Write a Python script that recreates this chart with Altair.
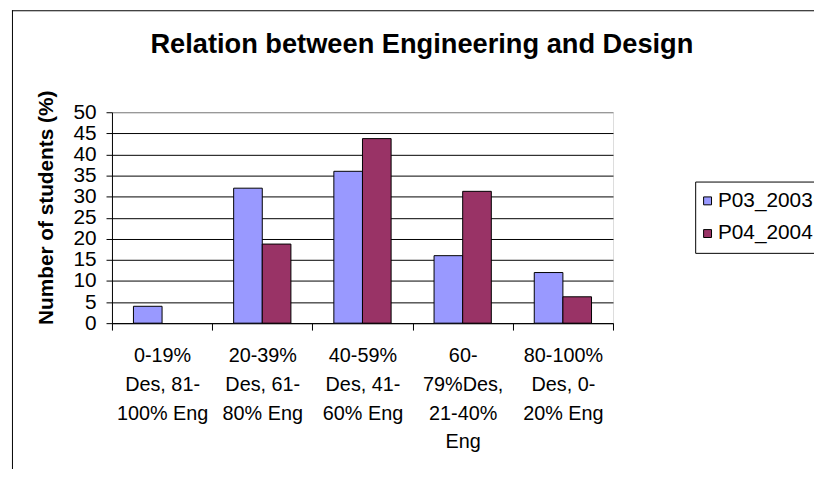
import altair as alt
import pandas as pd

categories = [
    "0-19%\nDes, 81-\n100% Eng",
    "20-39%\nDes, 61-\n80% Eng",
    "40-59%\nDes, 41-\n60% Eng",
    "60-\n79%Des,\n21-40%\nEng",
    "80-100%\nDes, 0-\n20% Eng",
]
series = ["P03_2003", "P04_2004"]
p03 = [4, 32, 36, 16, 12]
p04 = [None, 18.75, 43.75, 31.25, 6.25]
y_ticks = [0, 5, 10, 15, 20, 25, 30, 35, 40, 45, 50]
colors = ["#9999FF", "#993366"]

rows = []
for c, a, b in zip(categories, p03, p04):
    if a is not None:
        rows.append({"cat": c, "series": series[0], "value": a})
    if b is not None:
        rows.append({"cat": c, "series": series[1], "value": b})
df = pd.DataFrame(rows)

FONT = "Liberation Sans"

bars = alt.Chart(df).mark_bar(stroke="black", strokeWidth=1).encode(
    x=alt.X(
        "cat:N",
        sort=categories,
        scale=alt.Scale(paddingInner=0, paddingOuter=0),
        axis=alt.Axis(
            title=None,
            labelAngle=0,
            labelExpr="split(datum.label, '\\n')",
            tickBand="extent",
            tickSize=7,
            tickColor="black",
            domainColor="black",
            labelFont=FONT,
            labelFontSize=20,
            labelColor="black",
            labelLineHeight=29,
            labelPadding=16,
            labelBaseline="top",
        ),
    ),
    xOffset=alt.XOffset(
        "series:N",
        scale=alt.Scale(domain=series, paddingOuter=0.75, paddingInner=0),
    ),
    y=alt.Y(
        "value:Q",
        scale=alt.Scale(domain=[0, 50], nice=False),
        axis=alt.Axis(
            values=y_ticks,
            title="Number of students (%)",
            titleFont=FONT,
            titleFontSize=21,
            titleFontWeight="bold",
            titleColor="black",
            titleAngle=270,
            titleX=-66,
            titleY=96,
            titleAlign="center",
            titleBaseline="middle",
            labelFont=FONT,
            labelFontSize=21,
            labelColor="black",
            labelPadding=10,
            tickSize=6,
            tickColor="black",
            domainColor="black",
            gridColor={"condition": {"test": "datum.value === 50", "value": "#808080"}, "value": "black"},
            gridOpacity=1,
        ),
    ),
    color=alt.Color(
        "series:N",
        scale=alt.Scale(domain=series, range=colors),
        legend=alt.Legend(
            title=None,
            orient="none",
            legendX=589,
            legendY=70,
            strokeColor="black",
            fillColor="white",
            padding=9,
            symbolType="square",
            symbolSize=64,
            symbolOffset=-7,
            symbolStrokeColor="black",
            symbolStrokeWidth=1,
            symbolOpacity=1,
            labelFont=FONT,
            labelFontSize=21,
            labelColor="black",
            labelOffset=0,
            rowPadding=11,
            cornerRadius=0,
        ),
    ),
)

frame_df = pd.DataFrame({"k": [0]})
left_line = alt.Chart(frame_df).mark_rule(color="black", strokeWidth=1).encode(
    x=alt.value(-100.5), y=alt.value(-103), y2=alt.value(400)
)
top_line = alt.Chart(frame_df).mark_rule(color="black", strokeWidth=1).encode(
    x=alt.value(-101), x2=alt.value(720), y=alt.value(-102.5)
)

chart = alt.layer(bars, left_line, top_line).properties(
    width=506,
    height=213,
    title=alt.TitleParams(
        text="Relation between Engineering and Design",
        font=FONT,
        fontSize=27.5,
        fontWeight="bold",
        color="black",
        anchor="middle",
        baseline="alphabetic",
        dx=60,
        offset=0,
        dy=71,
    ),
    autosize=alt.AutoSizeParams(type="none"),
    padding={"left": 105, "top": 103, "right": 203, "bottom": 145},
).configure_view(
    stroke="#808080", strokeWidth=1, fill="#C0C0C0"
).configure(background="white")

chart.save("out.html", embed_options={"renderer": "svg", "actions": False})
